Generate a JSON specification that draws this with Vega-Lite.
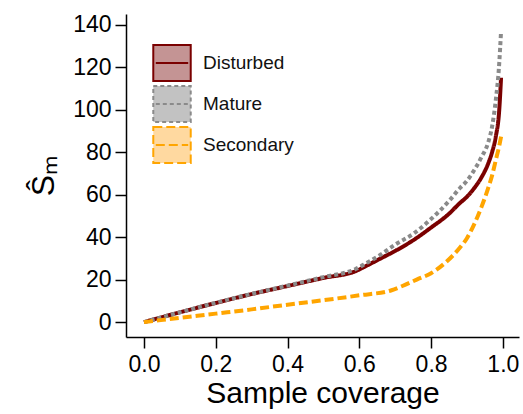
{
  "$schema": "https://vega.github.io/schema/vega-lite/v6.json",
  "width": 393,
  "height": 323,
  "autosize": {"type": "none"},
  "padding": {"left": 126, "top": 14, "right": 4, "bottom": 77},
  "background": "white",
  "config": {
    "view": {"stroke": null},
    "font": "Liberation Sans",
    "axis": {
      "grid": false,
      "domainColor": "black",
      "domainWidth": 1.5,
      "tickColor": "black",
      "tickWidth": 1.5,
      "tickSize": 11,
      "labelColor": "black",
      "labelFont": "Liberation Sans",
      "labelFontSize": 23,
      "titleColor": "black",
      "titleFont": "Liberation Sans",
      "titleFontWeight": "normal"
    },
    "legend": {
      "title": null,
      "orient": "none",
      "legendX": 27,
      "legendY": 30,
      "symbolType": "M-1.04,-1H1.04V1H-1.04Z M-0.9,0H0.9",
      "symbolSize": 1296,
      "symbolStrokeWidth": 2,
      "symbolOpacity": 1,
      "rowPadding": -6,
      "labelOffset": 12,
      "labelFontSize": 19,
      "labelColor": "#111",
      "labelFont": "Liberation Sans"
    }
  },
  "data": {
    "values": [
      {"g": "Disturbed", "c": 0, "s": 0},
      {"g": "Disturbed", "c": 0.1, "s": 4.6},
      {"g": "Disturbed", "c": 0.2, "s": 9},
      {"g": "Disturbed", "c": 0.3, "s": 13.2},
      {"g": "Disturbed", "c": 0.4, "s": 17},
      {"g": "Disturbed", "c": 0.5, "s": 20.8},
      {"g": "Disturbed", "c": 0.59, "s": 24},
      {"g": "Disturbed", "c": 0.62, "s": 26.5},
      {"g": "Disturbed", "c": 0.66, "s": 30},
      {"g": "Disturbed", "c": 0.7, "s": 33.5},
      {"g": "Disturbed", "c": 0.75, "s": 38.5},
      {"g": "Disturbed", "c": 0.8, "s": 44.5},
      {"g": "Disturbed", "c": 0.85, "s": 51},
      {"g": "Disturbed", "c": 0.88, "s": 56},
      {"g": "Disturbed", "c": 0.9, "s": 59},
      {"g": "Disturbed", "c": 0.92, "s": 63},
      {"g": "Disturbed", "c": 0.94, "s": 68},
      {"g": "Disturbed", "c": 0.96, "s": 75},
      {"g": "Disturbed", "c": 0.97, "s": 80},
      {"g": "Disturbed", "c": 0.98, "s": 87},
      {"g": "Disturbed", "c": 0.99, "s": 100},
      {"g": "Disturbed", "c": 0.995, "s": 115},
      {"g": "Mature", "c": 0, "s": 0},
      {"g": "Mature", "c": 0.1, "s": 4.6},
      {"g": "Mature", "c": 0.2, "s": 9.1},
      {"g": "Mature", "c": 0.3, "s": 13.3},
      {"g": "Mature", "c": 0.4, "s": 17.2},
      {"g": "Mature", "c": 0.5, "s": 21.2},
      {"g": "Mature", "c": 0.59, "s": 25},
      {"g": "Mature", "c": 0.62, "s": 27.8},
      {"g": "Mature", "c": 0.66, "s": 31.8},
      {"g": "Mature", "c": 0.7, "s": 36.5},
      {"g": "Mature", "c": 0.75, "s": 41.5},
      {"g": "Mature", "c": 0.8, "s": 48.5},
      {"g": "Mature", "c": 0.85, "s": 57},
      {"g": "Mature", "c": 0.88, "s": 63},
      {"g": "Mature", "c": 0.9, "s": 66.5},
      {"g": "Mature", "c": 0.92, "s": 71.5},
      {"g": "Mature", "c": 0.94, "s": 77.5},
      {"g": "Mature", "c": 0.96, "s": 85},
      {"g": "Mature", "c": 0.97, "s": 92},
      {"g": "Mature", "c": 0.98, "s": 104},
      {"g": "Mature", "c": 0.99, "s": 122},
      {"g": "Mature", "c": 0.995, "s": 137},
      {"g": "Secondary", "c": 0, "s": 0},
      {"g": "Secondary", "c": 0.1, "s": 2},
      {"g": "Secondary", "c": 0.2, "s": 4},
      {"g": "Secondary", "c": 0.3, "s": 6},
      {"g": "Secondary", "c": 0.4, "s": 8.2},
      {"g": "Secondary", "c": 0.5, "s": 10.3},
      {"g": "Secondary", "c": 0.6, "s": 12.6},
      {"g": "Secondary", "c": 0.69, "s": 15},
      {"g": "Secondary", "c": 0.72, "s": 17},
      {"g": "Secondary", "c": 0.76, "s": 20},
      {"g": "Secondary", "c": 0.8, "s": 23},
      {"g": "Secondary", "c": 0.84, "s": 28},
      {"g": "Secondary", "c": 0.88, "s": 35},
      {"g": "Secondary", "c": 0.9, "s": 39.5},
      {"g": "Secondary", "c": 0.92, "s": 46},
      {"g": "Secondary", "c": 0.94, "s": 54},
      {"g": "Secondary", "c": 0.96, "s": 63.5},
      {"g": "Secondary", "c": 0.97, "s": 69},
      {"g": "Secondary", "c": 0.98, "s": 76},
      {"g": "Secondary", "c": 0.99, "s": 83},
      {"g": "Secondary", "c": 0.997, "s": 89}
    ]
  },
  "encoding": {
    "x": {
      "field": "c", "type": "quantitative",
      "scale": {"domain": [-0.05, 1.045], "nice": false, "zero": false},
      "axis": {"values": [0, 0.2, 0.4, 0.6, 0.8, 1.0], "format": ".1f", "title": "Sample coverage", "titleFontSize": 30, "titlePadding": 2, "labelPadding": 5, "labelFontSize": 23}
    },
    "y": {
      "field": "s", "type": "quantitative",
      "scale": {"domain": [-7, 145], "nice": false, "zero": false},
      "axis": {"values": [0, 20, 40, 60, 80, 100, 120, 140], "title": "Ŝₘ", "titleFontSize": 32, "titlePadding": 12, "labelPadding": 4, "labelFontSize": 23}
    }
  },
  "layer": [
    {
      "mark": {"type": "area", "opacity": 1},
      "encoding": {
        "y2": {"field": "s"},
        "fill": {
          "field": "g", "type": "nominal",
          "scale": {"domain": ["Disturbed", "Mature", "Secondary"], "range": ["#c49494", "#c2c2c2", "#ffd9a0"]}
        }
      }
    },
    {
      "mark": {"type": "line", "strokeWidth": 4, "interpolate": "monotone"},
      "encoding": {
        "stroke": {
          "field": "g", "type": "nominal",
          "scale": {"domain": ["Disturbed", "Mature", "Secondary"], "range": ["#7a0000", "#8a8a8a", "#ffa500"]}
        },
        "strokeDash": {
          "field": "g", "type": "nominal",
          "scale": {"domain": ["Disturbed", "Mature", "Secondary"], "range": [[1, 0], [4, 3], [9, 4]]}
        }
      }
    }
  ]
}
